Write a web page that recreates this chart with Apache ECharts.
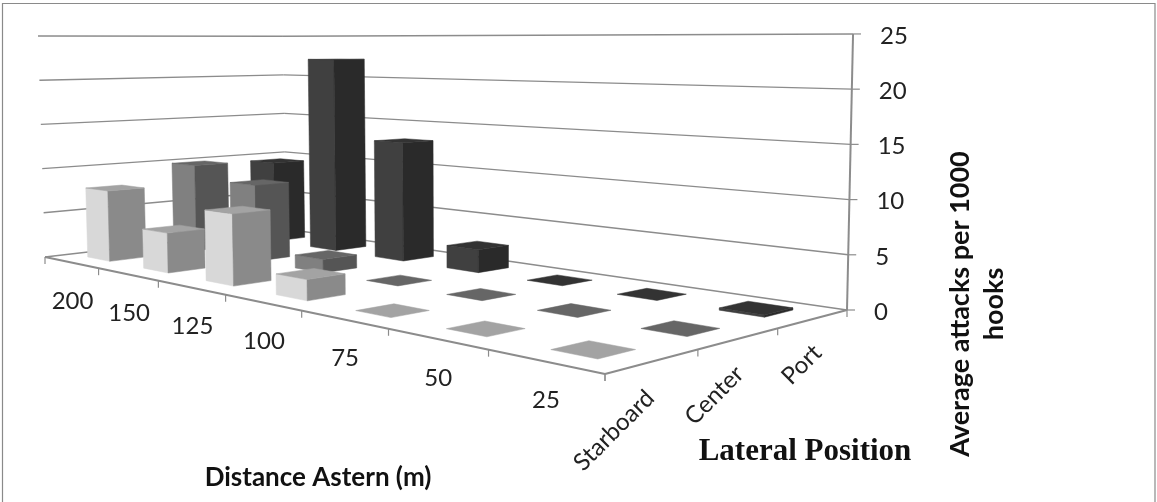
<!DOCTYPE html>
<html>
<head>
<meta charset="utf-8">
<style>html,body{margin:0;padding:0;background:#fff}#c{width:1157px;height:502px}</style>
<script src="https://cdn.jsdelivr.net/npm/echarts@6/dist/echarts.min.js"></script>
</head>
<body>
<div id="c"></div>
<script>
var distances = ['200','150','125','100','75','50','25'];
var lateral = ['Starboard','Center','Port'];
var valueTicks = [0,5,10,15,20,25];
var starboard = [7.8,4.2,7.2,2.0,0,0,0];
var center = [9.9,8.4,1.4,0,0,0,0];
var port = [9.5,22.2,13.1,2.4,0,0,0.2];

var palette = {
  Starboard:{left:'#d8d8d8',right:'#8a8a8a',top:'#a3a3a3'},
  Center:{left:'#808080',right:'#555555',top:'#666666'},
  Port:{left:'#404040',right:'#2a2a2a',top:'#333333'}
};
var lineColor='#8c8c8c', textColor='#222222', titleColor='#111111', tickFont='Lato';

// Oblique view of the chart's box: floor corners in the picture
var L=[45,257],F=[605,374],R=[847,310],B=[286,229];
var H=(function(){
  var dx1=F[0]-R[0],dy1=F[1]-R[1],dx2=B[0]-R[0],dy2=B[1]-R[1];
  var sx=L[0]-F[0]+R[0]-B[0],sy=L[1]-F[1]+R[1]-B[1];
  var den=dx1*dy2-dx2*dy1;
  var g=(sx*dy2-dx2*sy)/den,k=(dx1*sy-sx*dy1)/den;
  return {a:F[0]-L[0]+g*F[0],b:B[0]-L[0]+k*B[0],c:L[0],
          d:F[1]-L[1]+g*F[1],e:B[1]-L[1]+k*B[1],f:L[1],g:g,k:k};
})();
function project(u,v,h){
  var w=H.g*u+H.k*v+1;
  var x=(H.a*u+H.b*v+H.c)/w, y=(H.d*u+H.e*v+H.f)/w;
  return [x+h*0.00065*(x-475), y-h*8.84*Math.pow(w,-0.946)];
}
function poly(pts,fill){
  return {type:'polygon',shape:{points:pts},style:{fill:fill,stroke:fill,lineWidth:0.5}};
}
function seg(a,b,w){
  return {type:'line',shape:{x1:a[0],y1:a[1],x2:b[0],y2:b[1]},style:{stroke:lineColor,lineWidth:w,fill:null}};
}
function label(t,p,size,align,rot){
  return {type:'text',x:p[0],y:p[1],rotation:rot||0,
    style:{text:t,x:0,y:0,fontSize:size,fontFamily:tickFont,fill:textColor,align:align,verticalAlign:'middle'}};
}
var yMax=valueTicks[valueTicks.length-1];

function renderFrame(params,api){
  var kids=[];
  var rect=params.coordSys;
  valueTicks.forEach(function(t){
    var h=(rect.y+rect.height-api.coord([0,t])[1])/rect.height*yMax;
    if(t>0){
      var steps=[project(0,0,h),project(0,1,h),project(1,1,h)];
      kids.push(seg(steps[0],steps[1],1.4),seg(steps[1],steps[2],1.4));
    }
    var p=project(1,1,h);
    kids.push(seg(p,[p[0]+8,p[1]],1.2));
    kids.push(label(String(t),[p[0]+27,p[1]+2],24,'left'));
  });
  kids.push(seg(project(1,1,0),project(1,1,yMax),2));
  kids.push(seg(project(0,0,0),project(0,1,0),1.4),seg(project(0,1,0),project(1,1,0),1.4));
  kids.push(seg(project(0,0,0),project(1,0,0),2.2),seg(project(1,0,0),project(1,1,0),2.2));
  var i,p;
  for(i=0;i<=distances.length;i++){
    p=project(i/distances.length,0,0);
    kids.push(seg(p,[p[0],p[1]+7],1.2));
    if(i<distances.length){
      var m=project((i+0.5)/distances.length,0,0);
      kids.push(label(distances[i],[m[0]+1.5,m[1]+39],24,'center'));
    }
  }
  for(i=0;i<=lateral.length;i++){
    p=project(1,i/lateral.length,0);
    kids.push(seg(p,[p[0],p[1]+7],1.2));
    if(i<lateral.length){
      var n=project(1,(i+0.5)/lateral.length,0);
      kids.push(label(lateral[i],[n[0]-3+i*3.5,n[1]+33-i*1.5],24,'right',Math.PI/4));
    }
  }
  return {type:'group',children:kids};
}

var barFrac=0.405;
function makeRender(li){
  var pal=palette[lateral[li]];
  return function(params,api){
    var rect=params.coordSys;
    var c=api.coord([api.value(0),api.value(1)]);
    var bandU=api.size([1,0])[0]/rect.width;
    var u=(c[0]-rect.x)/rect.width;
    var h=(rect.y+rect.height-c[1])/rect.height*yMax;
    var v=(li+0.5)/lateral.length;
    var du=bandU*barFrac/2, dv=barFrac/lateral.length/2;
    var u0=u-du,u1=u+du,v0=v-dv,v1=v+dv;
    var kids=[];
    if(h>0){
      kids.push(poly([project(u0,v0,0),project(u1,v0,0),project(u1,v0,h),project(u0,v0,h)],pal.left));
      kids.push(poly([project(u1,v0,0),project(u1,v1,0),project(u1,v1,h),project(u1,v0,h)],pal.right));
    }
    kids.push(poly([project(u0,v0,h),project(u1,v0,h),project(u1,v1,h),project(u0,v1,h)],pal.top));
    return {type:'group',children:kids};
  };
}
function barSeries(name,values,li){
  return {name:name,type:'custom',xAxisIndex:0,yAxisIndex:0,renderItem:makeRender(li),
    encode:{x:0,y:1},silent:true,
    data:values.map(function(val,i){return [i,val];})};
}

var chart=echarts.init(document.getElementById('c'),null,{renderer:'canvas'});
chart.setOption({
  animation:false,
  backgroundColor:'#ffffff',
  grid:{left:0,right:0,top:0,bottom:0,show:false},
  xAxis:{type:'category',data:distances,show:false},
  yAxis:{type:'value',min:0,max:yMax,interval:5,show:false},
  tooltip:{show:false},
  graphic:[
    {type:'rect',shape:{x:2.5,y:3.5,width:1152.5,height:510},style:{fill:'none',stroke:'#8a8a8a',lineWidth:1.2},silent:true,z:-1},
    {type:'text',x:318,y:478,style:{text:'Distance Astern (m)',fontFamily:'Lato',fontWeight:'bold',fontSize:26,fill:titleColor,align:'center',verticalAlign:'middle'}},
    {type:'text',x:805,y:452,style:{text:'Lateral Position',fontFamily:'Liberation Serif',fontWeight:'bold',fontSize:31,fill:titleColor,align:'center',verticalAlign:'middle'}},
    {type:'text',x:960,y:304,rotation:Math.PI/2,style:{text:'Average attacks per 1000',fontFamily:'Lato',fontWeight:'bold',fontSize:27,fill:titleColor,align:'center',verticalAlign:'middle'}},
    {type:'text',x:994,y:304,rotation:Math.PI/2,style:{text:'hooks',fontFamily:'Lato',fontWeight:'bold',fontSize:27,fill:titleColor,align:'center',verticalAlign:'middle'}}
  ],
  series:[
    {type:'custom',name:'Frame',renderItem:renderFrame,silent:true,encode:{x:0,y:1},data:[[0,0]]},
    barSeries('Port',port,2),
    barSeries('Center',center,1),
    barSeries('Starboard',starboard,0)
  ]
});
</script>
</body>
</html>
